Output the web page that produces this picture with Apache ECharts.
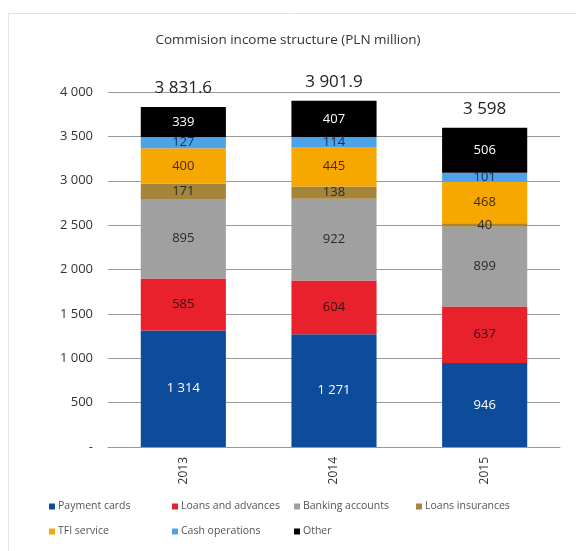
<!DOCTYPE html>
<html>
<head>
<meta charset="utf-8">
<script src="https://cdn.jsdelivr.net/npm/echarts@6/dist/echarts.min.js"></script>
<style>
  html, body { margin: 0; padding: 0; background: #fff; }
  #chart { width: 576px; height: 551px; }
</style>
</head>
<body>
<div id="chart"></div>
<script>
// Commission income by product line, PLN million
const years = ['2013', '2014', '2015'];
const seriesNames = ['Payment cards', 'Loans and advances', 'Banking accounts', 'Loans insurances',
                     'TFI service', 'Cash operations', 'Other'];
const paymentCards = [1314, 1271, 946];
const loansAdvances = [585, 604, 637];
const bankingAccounts = [895, 922, 899];
const loansInsurances = [171, 138, 40];
const tfiService = [400, 445, 468];
const cashOperations = [127, 114, 101];
const other = [339, 407, 506];
const totals = ['3 831.6', '3 901.9', '3 598'];
const yTicks = [0, 500, 1000, 1500, 2000, 2500, 3000, 3500, 4000];

const FONT = '"Open Sans", "Noto Sans", sans-serif';

function fmtThousands(v) {
  if (v === 0) return '-';
  return String(v).replace(/\B(?=(\d{3})+(?!\d))/g, ' ');
}

function seg(name, data, color, labelColor) {
  return {
    name: name,
    type: 'bar',
    stack: 'total',
    data: data,
    barWidth: '56.5%',
    itemStyle: { color: color },
    label: {
      show: true,
      position: 'inside',
      color: labelColor,
      fontFamily: FONT,
      fontSize: 13,
      formatter: p => fmtThousands(p.value)
    },
    emphasis: { disabled: true }
  };
}

const chart = echarts.init(document.getElementById('chart'), null, { renderer: 'canvas' });

// one legend entry per cell of a 4-column grid
const legendCols = [44, 167, 289, 411];
const legendRows = [496, 521];
const legends = seriesNames.map((name, i) => ({
  data: [name],
  left: legendCols[i % 4],
  top: legendRows[Math.floor(i / 4)],
  itemWidth: 6, itemHeight: 6, itemGap: 5,
  icon: 'rect',
  selectedMode: false,
  textStyle: { color: '#555', fontSize: 10.5, fontFamily: FONT, padding: [0, 0, 0, -2] }
}));

chart.setOption({
  animation: false,
  backgroundColor: '#fff',
  graphic: [{
    type: 'rect',
    shape: { x: 8.5, y: 13.5, width: 580, height: 560 },
    style: { fill: 'none', stroke: '#e4e4e4', lineWidth: 1 },
    silent: true
  }],
  title: {
    text: 'Commision income structure (PLN million)',
    left: 'center',
    top: 28,
    textStyle: { color: '#333', fontSize: 13.5, fontWeight: 'normal', fontFamily: FONT }
  },
  grid: { left: 108, right: 16, top: 92, bottom: 104 },
  legend: legends,
  xAxis: {
    type: 'category',
    data: years,
    axisLine: { show: true, lineStyle: { color: '#999' } },
    axisTick: { show: false },
    axisLabel: { rotate: 90, color: '#333', fontSize: 12, fontFamily: FONT, margin: 10 }
  },
  yAxis: {
    type: 'value',
    min: 0,
    max: 4000,
    interval: 500,
    axisLine: { show: false },
    axisTick: { show: false },
    splitLine: { lineStyle: { color: '#9a9a9a', width: 1 } },
    axisLabel: {
      color: '#333', fontSize: 13, fontFamily: FONT, margin: 15,
      formatter: v => yTicks.includes(v) ? fmtThousands(v) : ''
    }
  },
  series: [
    seg(seriesNames[0], paymentCards, '#0d4b9b', '#ffffff'),
    seg(seriesNames[1], loansAdvances, '#e8212c', '#3a1010'),
    seg(seriesNames[2], bankingAccounts, '#a0a0a0', '#2a2a2a'),
    seg(seriesNames[3], loansInsurances, '#a5853a', '#2a2a2a'),
    seg(seriesNames[4], tfiService, '#f6a700', '#4a2a00'),
    seg(seriesNames[5], cashOperations, '#4da3ea', '#1a2a55'),
    seg(seriesNames[6], other, '#000000', '#ffffff'),
    {
      name: 'Total',
      type: 'bar',
      stack: 'total',
      data: [0, 0, 0],
      barWidth: '56.5%',
      itemStyle: { color: 'transparent' },
      label: {
        show: true,
        position: 'top',
        distance: 10,
        color: '#222',
        fontSize: 17,
        fontFamily: FONT,
        formatter: p => totals[p.dataIndex]
      },
      emphasis: { disabled: true }
    }
  ]
});
</script>
</body>
</html>
